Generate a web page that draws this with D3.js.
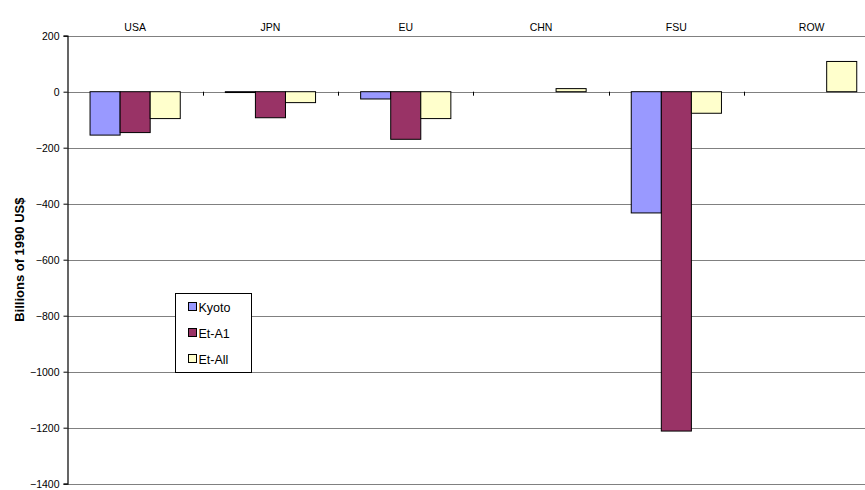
<!DOCTYPE html>
<html>
<head>
<meta charset="utf-8">
<script src="https://cdn.jsdelivr.net/npm/d3@7"></script>
<style>
  html, body { margin: 0; padding: 0; background: #fff; }
  svg { display: block; font-family: "Liberation Sans", Arial, sans-serif; }
</style>
</head>
<body>
<svg id="chart" width="865" height="490"></svg>
<script>
// Regions and scenarios
const regions = ["USA", "JPN", "EU", "CHN", "FSU", "ROW"];
const scenarios = ["Kyoto", "Et-A1", "Et-All"];
const colors = ["#9999FF", "#993366", "#FFFFCC"];

// Values in billions of 1990 US$, one array per scenario
const kyoto = [-155, -3, -26, 0, -433, 0];
const etA1 = [-146, -93, -170, 0, -1212, 0];
const etAll = [-96, -39, -96, 11, -77, 108];

const yTicks = [200, 0, -200, -400, -600, -800, -1000, -1200, -1400];

const series = [kyoto, etA1, etAll];

const svg = d3.select("#chart");

const plotLeft = 67.5;
const catWidth = 135.3;
const plotTop = 35.7, plotBottom = 483.7;

const x0 = d3.scaleBand()
  .domain(regions)
  .range([plotLeft, plotLeft + catWidth * regions.length])
  .paddingInner(0).paddingOuter(0);

const x1 = d3.scaleBand()
  .domain(scenarios)
  .range([0, x0.bandwidth()])
  .paddingInner(0)
  .paddingOuter(0.75);

const y = d3.scaleLinear().domain([-1400, 200]).range([plotBottom, plotTop]);

// Horizontal gridlines
svg.append("g")
  .selectAll("line")
  .data(yTicks)
  .join("line")
  .attr("x1", plotLeft)
  .attr("x2", 865)
  .attr("y1", d => Math.round(y(d)) + 0.5)
  .attr("y2", d => Math.round(y(d)) + 0.5)
  .attr("stroke", "#808080")
  .attr("stroke-width", 1.2);

// Y axis
const yAxis = d3.axisLeft(y)
  .tickValues(yTicks)
  .tickSize(4)
  .tickPadding(4)
  .tickFormat(d3.format("d"));

const gy = svg.append("g")
  .attr("transform", `translate(${plotLeft},0)`)
  .call(yAxis);
gy.select(".domain").attr("stroke", "#000").attr("stroke-width", 1.2);
gy.selectAll(".tick line").attr("stroke", "#000");
gy.selectAll(".tick text")
  .attr("font-size", 10.5)
  .attr("fill", "#000")
  .attr("font-family", "Liberation Sans, Arial, sans-serif");

// Category ticks on the zero line
svg.append("g")
  .selectAll("line")
  .data(regions.slice(1))
  .join("line")
  .attr("x1", d => Math.round(x0(d)) + 0.5)
  .attr("x2", d => Math.round(x0(d)) + 0.5)
  .attr("y1", y(0))
  .attr("y2", y(0) + 4)
  .attr("stroke", "#000");

// Category labels along the top
svg.append("g")
  .selectAll("text")
  .data(regions)
  .join("text")
  .attr("x", d => x0(d) + x0.bandwidth() / 2)
  .attr("y", 31)
  .attr("text-anchor", "middle")
  .attr("font-size", 10.5)
  .attr("fill", "#000")
  .text(d => d);

// Bars
const bars = [];
regions.forEach((r, i) => {
  scenarios.forEach((s, j) => {
    bars.push({ region: r, scenario: s, value: series[j][i], color: colors[j] });
  });
});

svg.append("g")
  .selectAll("rect")
  .data(bars.filter(d => d.value !== 0))
  .join("rect")
  .attr("x", d => x0(d.region) + x1(d.scenario))
  .attr("width", x1.bandwidth())
  .attr("y", d => y(Math.max(0, d.value)))
  .attr("height", d => Math.abs(y(d.value) - y(0)))
  .attr("fill", d => d.color)
  .attr("stroke", "#000")
  .attr("stroke-width", 1);

// Y axis title
svg.append("text")
  .attr("transform", `translate(24,${(plotTop + plotBottom) / 2}) rotate(-90)`)
  .attr("text-anchor", "middle")
  .attr("font-size", 13)
  .attr("font-weight", "bold")
  .attr("fill", "#000")
  .text("Billions of 1990 US$");

// Legend
const legend = svg.append("g").attr("transform", "translate(175.5,293.5)");
legend.append("rect")
  .attr("width", 76)
  .attr("height", 79)
  .attr("fill", "#fff")
  .attr("stroke", "#000")
  .attr("stroke-width", 1);

const items = legend.selectAll("g.item")
  .data(scenarios)
  .join("g")
  .attr("class", "item")
  .attr("transform", (d, i) => `translate(13,${9 + i * 26})`);

items.append("rect")
  .attr("width", 8)
  .attr("height", 8)
  .attr("fill", (d, i) => colors[i])
  .attr("stroke", "#000");

items.append("text")
  .attr("x", 10)
  .attr("y", 9)
  .attr("font-size", 12.5)
  .attr("fill", "#000")
  .text(d => d);
</script>
</body>
</html>
